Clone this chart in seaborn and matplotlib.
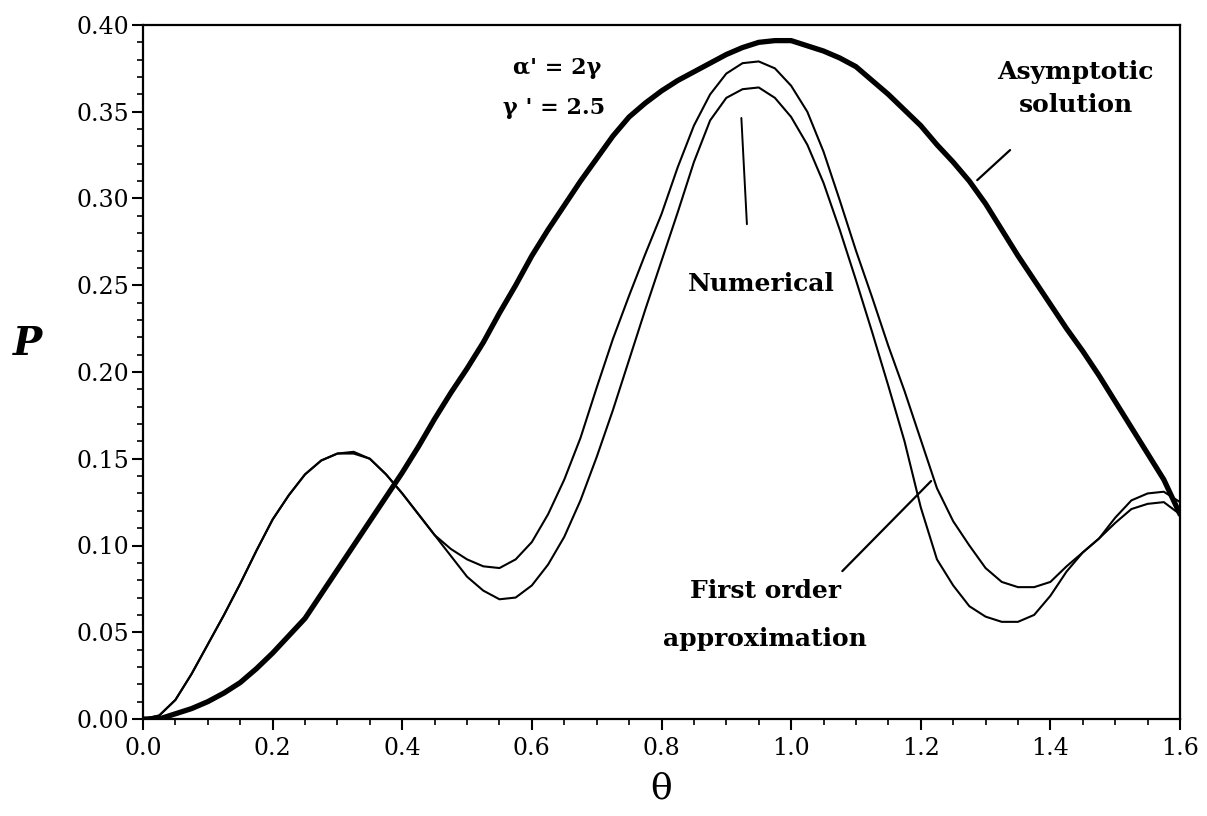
import numpy as np
import pandas as pd
import matplotlib
matplotlib.use("Agg")
import matplotlib.pyplot as plt
import seaborn as sns
from matplotlib.ticker import MultipleLocator, FormatStrFormatter

# ---------------- data ----------------
theta = [0.000, 0.025, 0.050, 0.075, 0.100, 0.125, 0.150, 0.175, 0.200, 0.225,
         0.250, 0.275, 0.300, 0.325, 0.350, 0.375, 0.400, 0.425, 0.450, 0.475,
         0.500, 0.525, 0.550, 0.575, 0.600, 0.625, 0.650, 0.675, 0.700, 0.725,
         0.750, 0.775, 0.800, 0.825, 0.850, 0.875, 0.900, 0.925, 0.950, 0.975,
         1.000, 1.025, 1.050, 1.075, 1.100, 1.125, 1.150, 1.175, 1.200, 1.225,
         1.250, 1.275, 1.300, 1.325, 1.350, 1.375, 1.400, 1.425, 1.450, 1.475,
         1.500, 1.525, 1.550, 1.575, 1.600]

asymptotic = [0.000, 0.000, 0.003, 0.006, 0.010, 0.015, 0.021, 0.029, 0.038, 0.048,
              0.058, 0.072, 0.086, 0.100, 0.114, 0.128, 0.142, 0.157, 0.173, 0.188,
              0.202, 0.217, 0.234, 0.250, 0.267, 0.282, 0.296, 0.310, 0.323, 0.336,
              0.347, 0.355, 0.362, 0.368, 0.373, 0.378, 0.383, 0.387, 0.390, 0.391,
              0.391, 0.388, 0.385, 0.381, 0.376, 0.368, 0.360, 0.351, 0.342, 0.331,
              0.321, 0.310, 0.297, 0.282, 0.267, 0.253, 0.239, 0.225, 0.212, 0.198,
              0.183, 0.168, 0.153, 0.138, 0.118]

numerical = [0.000, 0.002, 0.011, 0.026, 0.043, 0.060, 0.078, 0.097, 0.115, 0.129,
             0.141, 0.149, 0.153, 0.153, 0.150, 0.141, 0.130, 0.118, 0.106, 0.094,
             0.082, 0.074, 0.069, 0.070, 0.077, 0.089, 0.105, 0.126, 0.151, 0.178,
             0.207, 0.236, 0.264, 0.292, 0.321, 0.345, 0.358, 0.363, 0.364, 0.358,
             0.347, 0.331, 0.309, 0.282, 0.253, 0.223, 0.192, 0.160, 0.122, 0.092,
             0.077, 0.065, 0.059, 0.056, 0.056, 0.060, 0.071, 0.085, 0.096, 0.104,
             0.116, 0.126, 0.130, 0.131, 0.125]

first_order = [0.000, 0.002, 0.011, 0.026, 0.043, 0.060, 0.078, 0.097, 0.115, 0.129,
               0.141, 0.149, 0.153, 0.154, 0.150, 0.141, 0.130, 0.118, 0.106, 0.098,
               0.092, 0.088, 0.087, 0.092, 0.102, 0.118, 0.138, 0.162, 0.191, 0.219,
               0.244, 0.268, 0.291, 0.318, 0.342, 0.360, 0.372, 0.378, 0.379, 0.375,
               0.365, 0.350, 0.327, 0.299, 0.270, 0.243, 0.215, 0.189, 0.161, 0.133,
               0.114, 0.100, 0.087, 0.079, 0.076, 0.076, 0.079, 0.088, 0.096, 0.104,
               0.113, 0.121, 0.124, 0.125, 0.118]

# ---------------- style ----------------
sns.set_theme(style="ticks")
plt.rcParams["font.family"] = ["DejaVu Serif", "DejaVu Sans"]
plt.rcParams["axes.edgecolor"] = "black"
plt.rcParams["axes.labelcolor"] = "black"
plt.rcParams["text.color"] = "black"
plt.rcParams["xtick.color"] = "black"
plt.rcParams["ytick.color"] = "black"
plt.rcParams["xtick.labelcolor"] = "black"
plt.rcParams["ytick.labelcolor"] = "black"

W, H = 1207, 816
fig = plt.figure(figsize=(W / 100, H / 100), dpi=100)
L, R, T, B = 143, 1180, 25, 719
ax = fig.add_axes([L / W, 1 - B / H, (R - L) / W, (B - T) / H])

sns.lineplot(x=theta, y=asymptotic, ax=ax, color="black", lw=3.8, estimator=None)
sns.lineplot(x=theta, y=numerical, ax=ax, color="black", lw=1.5, estimator=None)
sns.lineplot(x=theta, y=first_order, ax=ax, color="black", lw=1.5, estimator=None)

ax.set_xlim(0, 1.6)
ax.set_ylim(0, 0.40)
ax.xaxis.set_major_locator(MultipleLocator(0.2))
ax.xaxis.set_minor_locator(MultipleLocator(0.05))
ax.yaxis.set_major_locator(MultipleLocator(0.05))
ax.yaxis.set_minor_locator(MultipleLocator(0.01))
ax.xaxis.set_major_formatter(FormatStrFormatter("%.1f"))
ax.yaxis.set_major_formatter(FormatStrFormatter("%.2f"))

ax.tick_params(which="major", direction="out", length=8, width=1.5, labelsize=17,
               colors="black", labelcolor="black")
ax.tick_params(which="minor", direction="out", length=4, width=1.2, colors="black")
ax.tick_params(axis="x", which="major", pad=5)
ax.tick_params(axis="y", which="major", pad=2)
for s in ax.spines.values():
    s.set_linewidth(1.6)
    s.set_color("black")

ax.set_xlabel("θ", fontsize=26, labelpad=8, color="black")
ax.set_ylabel("P", fontsize=28, fontstyle="italic", fontweight="bold", rotation=0,
              color="black")
ax.yaxis.set_label_coords((28 - L) / (R - L), (B - 363) / (B - T))

# ---------------- annotations ----------------
ax.text(0.639, 0.375, "α' = 2γ", fontsize=16, fontweight="bold", ha="center", va="center")
ax.text(0.634, 0.352, "γ ' = 2.5", fontsize=16, fontweight="bold", ha="center", va="center")

ax.text(1.438, 0.373, "Asymptotic", fontsize=18, fontweight="bold", ha="center", va="center")
ax.text(1.440, 0.354, "solution", fontsize=18, fontweight="bold", ha="center", va="center")
ax.annotate("", xy=(1.284, 0.3095), xytext=(1.341, 0.329),
            arrowprops=dict(arrowstyle="-", lw=1.6, color="black"))

ax.text(0.954, 0.251, "Numerical", fontsize=18, fontweight="bold", ha="center", va="center")
ax.annotate("", xy=(0.923, 0.348), xytext=(0.932, 0.2836),
            arrowprops=dict(arrowstyle="-", lw=1.4, color="black"))

ax.text(0.961, 0.074, "First order", fontsize=18, fontweight="bold", ha="center", va="center")
ax.text(0.960, 0.046, "approximation", fontsize=18, fontweight="bold", ha="center", va="center")
ax.annotate("", xy=(1.219, 0.1383), xytext=(1.076, 0.0841),
            arrowprops=dict(arrowstyle="-", lw=1.6, color="black"))

fig.savefig("out.png", dpi=100)
